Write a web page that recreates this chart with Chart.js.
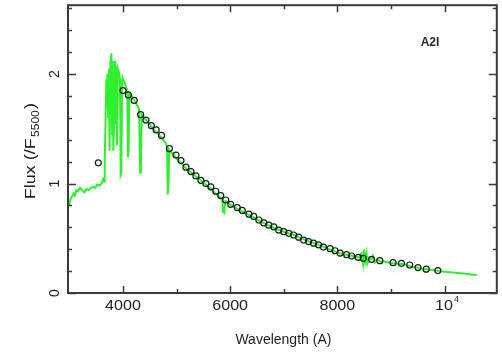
<!DOCTYPE html>
<html>
<head>
<meta charset="utf-8">
<script src="https://cdn.jsdelivr.net/npm/chart.js@4.4.1/dist/chart.umd.min.js"></script>
<style>
  html, body { margin: 0; padding: 0; background: #ffffff; }
  #wrap { width: 502px; height: 353px; }
</style>
</head>
<body>
<div id="wrap"><canvas id="c" width="502" height="353"></canvas></div>
<script>
// ---- Data ----
const specWave = [3000,3020,3050,3080,3100,3130,3160,3200,3240,3280,3320,3360,3400,3440,3480,3520,3560,3600,3630,3650,
  3660,3675,3690,3700,3710,3725,3740,3750,3765,3785,3798,3810,3820,3835,3850,3870,3889,3905,3925,3945,
  3957,3970,3985,4000,4030,4060,4080,4093,4105,4120,4150,4200,4250,4300,4322,4335,4350,4400,4450,4500,
  4550,4600,4650,4700,4750,4800,4825,4835,4850,4865,4900,4950,5000,5100,5200,5300,5400,5500,5600,5700,
  5800,5850,5870,5890,5910,5950,6000,6100,6200,6300,6400,6500,6560,6600,6700,6800,6900,7000,7100,7200,
  7300,7400,7500,7600,7700,7800,7900,8000,8100,8200,8300,8400,8450,8480,8500,8520,8545,8560,8600,8640,
  8665,8700,8750,8800,8900,9000,9100,9200,9300,9400,9500,9600,9700,9800,9900,10000,10100,10200,10300,10400,
  10500,10600];
const specFlux = [0.80,0.86,0.88,0.91,0.89,0.94,0.93,0.96,0.94,0.92,0.95,0.94,0.96,0.97,0.96,0.99,0.98,1.00,1.04,1.02,
  1.22,1.55,1.95,1.70,2.00,1.60,2.05,1.30,2.10,2.19,1.45,2.12,1.30,1.55,2.12,2.05,1.35,2.05,2.02,1.95,
  1.08,1.10,1.95,1.96,1.92,1.88,1.84,1.24,1.30,1.82,1.81,1.77,1.73,1.68,1.10,1.15,1.63,1.60,1.57,1.54,
  1.51,1.48,1.46,1.43,1.40,1.37,1.33,0.90,1.00,1.31,1.29,1.26,1.23,1.18,1.13,1.09,1.05,1.01,0.97,0.92,
  0.88,0.86,0.74,0.73,0.84,0.83,0.81,0.78,0.75,0.725,0.70,0.675,0.655,0.645,0.62,0.60,0.58,0.56,0.545,0.53,
  0.505,0.485,0.465,0.45,0.43,0.41,0.39,0.37,0.355,0.345,0.335,0.325,0.36,0.27,0.40,0.29,0.36,0.27,0.32,0.31,
  0.34,0.28,0.31,0.29,0.285,0.275,0.27,0.265,0.255,0.24,0.23,0.22,0.215,0.21,0.20,0.195,0.19,0.185,0.18,0.175,
  0.17,0.165];

const circWave = [3540,4000,4100,4210,4330,4430,4530,4620,4720,4866,4990,5083,5176,5269,5362,5454,5547,5640,5732,5825,
  5918,6011,6133,6226,6350,6440,6536,6628,6721,6814,6907,7000,7092,7185,7278,7370,7463,7556,7649,7741,
  7865,7958,8051,8174,8267,8391,8483,8638,8793,9040,9195,9350,9504,9658,9875];
const circFlux = [1.19,1.85,1.81,1.76,1.63,1.58,1.53,1.49,1.44,1.32,1.26,1.21,1.15,1.11,1.07,1.03,1.00,0.97,0.93,0.89,
  0.85,0.81,0.78,0.755,0.72,0.70,0.667,0.64,0.62,0.605,0.575,0.56,0.545,0.53,0.51,0.484,0.47,0.455,0.44,0.42,
  0.405,0.386,0.365,0.35,0.338,0.326,0.317,0.308,0.295,0.277,0.271,0.256,0.232,0.218,0.205];

const xMajorTicks = [4000, 6000, 8000, 10000];
const xTickLabels = ['4000', '6000', '8000', '10^4'];
const xMinorTicks = [5000, 7000, 9000];
const yMajorTicks = [0, 1, 2];
const yTickLabels = ['0', '1', '2'];
const yMinorTicks = [0.2,0.4,0.6,0.8,1.2,1.4,1.6,1.8,2.2,2.4,2.6];
const xTitle = 'Wavelength (A)';
const yTitleMain = 'Flux (/F';
const yTitleSub = '5500';
const yTitleEnd = ')';
const panelLabel = 'A2I';

const FONT = '"Liberation Sans", Arial, Helvetica, sans-serif';

const framePlugin = {
  id: 'frame',
  afterDraw(chart) {
    const ctx = chart.ctx;
    const a = chart.chartArea;
    const xs = chart.scales.x, ys = chart.scales.y;
    ctx.save();
    ctx.strokeStyle = '#3a3a3a';
    ctx.lineWidth = 2;
    ctx.strokeRect(a.left, a.top, a.right - a.left, a.bottom - a.top);
    ctx.lineWidth = 1.5;
    ctx.beginPath();
    const tick = (vals, len, horiz) => {
      vals.forEach(v => {
        if (horiz) {
          const px = Math.round(xs.getPixelForValue(v)) + 0.5;
          ctx.moveTo(px, a.bottom); ctx.lineTo(px, a.bottom - len);
          ctx.moveTo(px, a.top); ctx.lineTo(px, a.top + len);
        } else {
          const py = Math.round(ys.getPixelForValue(v)) + 0.5;
          ctx.moveTo(a.left, py); ctx.lineTo(a.left + len, py);
          ctx.moveTo(a.right, py); ctx.lineTo(a.right - len, py);
        }
      });
    };
    tick(xMajorTicks, 7, true);
    tick(xMinorTicks, 4, true);
    tick(yMajorTicks, 8, false);
    tick(yMinorTicks, 4, false);
    ctx.stroke();

    // x tick labels
    ctx.fillStyle = '#1e1e1e';
    ctx.textBaseline = 'middle';
    ctx.textAlign = 'center';
    xMajorTicks.forEach((v, i) => {
      const px = xs.getPixelForValue(v);
      const lab = xTickLabels[i];
      const ly = a.bottom + 13;
      if (lab.indexOf('^') >= 0) {
        const [base, exp] = lab.split('^');
        ctx.font = '14px ' + FONT;
        const wb = ctx.measureText(base).width * 1.15;
        ctx.font = '9px ' + FONT;
        const we = ctx.measureText(exp).width;
        const x0 = px - (wb + we) / 2 + 2;
        ctx.save();
        ctx.translate(x0, ly);
        ctx.scale(1.15, 1);
        ctx.textAlign = 'left';
        ctx.font = '14px ' + FONT;
        ctx.fillText(base, 0, 0);
        ctx.restore();
        ctx.textAlign = 'left';
        ctx.font = '9px ' + FONT;
        ctx.fillText(exp, x0 + wb + 1, ly - 6);
        ctx.textAlign = 'center';
      } else {
        ctx.save();
        ctx.translate(px, ly);
        ctx.scale(1.15, 1);
        ctx.font = '14px ' + FONT;
        ctx.fillText(lab, 0, 0);
        ctx.restore();
      }
    });
    // x title
    ctx.font = '14px ' + FONT;
    ctx.fillText(xTitle, (a.left + a.right) / 2 + 1, a.bottom + 47);

    // y tick labels (rotated)
    yMajorTicks.forEach((v, i) => {
      const py = ys.getPixelForValue(v);
      ctx.save();
      ctx.translate(a.left - 13, py);
      ctx.rotate(-Math.PI / 2);
      ctx.font = '14px ' + FONT;
      ctx.textAlign = 'center';
      ctx.fillText(yTickLabels[i], 0, 0);
      ctx.restore();
    });
    // y title with subscript
    ctx.save();
    ctx.translate(31, (a.top + a.bottom) / 2 + 2);
    ctx.rotate(-Math.PI / 2);
    ctx.scale(1.2, 1);
    ctx.font = '15px ' + FONT;
    const w1 = ctx.measureText(yTitleMain).width;
    const w3 = ctx.measureText(yTitleEnd).width;
    ctx.font = '10px ' + FONT;
    const w2 = ctx.measureText(yTitleSub).width;
    let x0 = -(w1 + w2 + w3 + 2) / 2;
    ctx.textAlign = 'left';
    ctx.font = '15px ' + FONT;
    ctx.fillText(yTitleMain, x0, 0);
    ctx.font = '10px ' + FONT;
    ctx.fillText(yTitleSub, x0 + w1 + 1, 5);
    ctx.font = '15px ' + FONT;
    ctx.fillText(yTitleEnd, x0 + w1 + w2 + 2, 0);
    ctx.restore();

    // panel label
    ctx.font = 'bold 12px ' + FONT;
    ctx.textAlign = 'center';
    ctx.fillStyle = '#2a2a2a';
    ctx.fillText(panelLabel, 430, 43);
    ctx.restore();
  }
};

const specData = specWave.map((w, i) => ({ x: w, y: specFlux[i] }));
const circData = circWave.map((w, i) => ({ x: w, y: circFlux[i] }));

new Chart(document.getElementById('c'), {
  type: 'scatter',
  data: {
    datasets: [
      {
        label: 'spectrum',
        data: specData,
        showLine: true,
        borderColor: '#2ef02e',
        borderWidth: 2,
        pointRadius: 0,
        tension: 0,
        order: 2
      },
      {
        label: 'photometry',
        data: circData,
        showLine: false,
        borderColor: '#142014',
        backgroundColor: 'rgba(0,0,0,0)',
        borderWidth: 1.2,
        pointRadius: 3,
        pointStyle: 'circle',
        order: 1
      }
    ]
  },
  options: {
    responsive: false,
    animation: false,
    devicePixelRatio: 1,
    layout: { padding: { left: 68, top: 5, right: 3, bottom: 60 } },
    plugins: { legend: { display: false }, tooltip: { enabled: false } },
    scales: {
      x: { type: 'linear', min: 2975, max: 10975, display: false },
      y: { type: 'linear', min: 0, max: 2.63, display: false }
    }
  },
  plugins: [framePlugin]
});
</script>
</body>
</html>
